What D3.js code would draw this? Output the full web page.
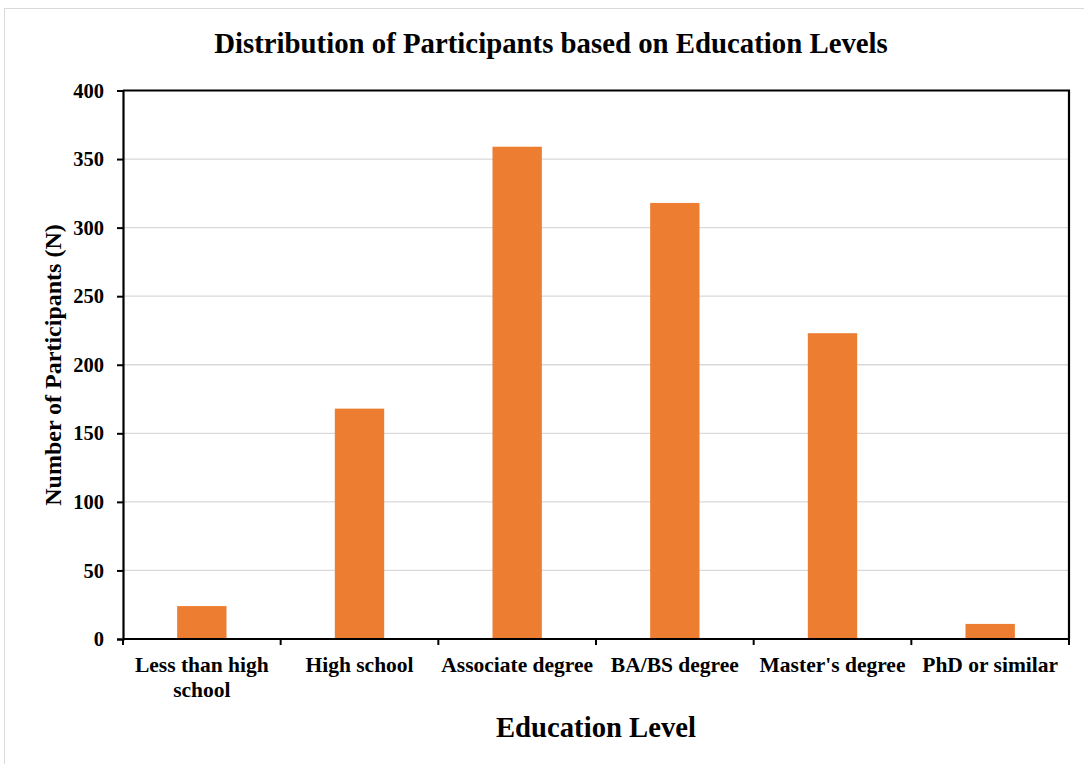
<!DOCTYPE html>
<html>
<head>
<meta charset="utf-8">
<script src="https://cdn.jsdelivr.net/npm/d3@7"></script>
<style>
  html, body { margin: 0; padding: 0; background: #fff; }
  svg text { font-family: "Liberation Serif", "Times New Roman", serif; font-weight: bold; }
</style>
</head>
<body>
<svg id="chart" width="1084" height="764"></svg>
<script>
const categories = ["Less than high school", "High school", "Associate degree", "BA/BS degree", "Master's degree", "PhD or similar"];
const values = [24, 168, 359, 318, 223, 11];
const yTicks = [0, 50, 100, 150, 200, 250, 300, 350, 400];
const titleText = "Distribution of Participants based on Education Levels";
const xTitle = "Education Level";
const yTitle = "Number of Participants (N)";

const svg = d3.select("#chart");
const W = 1084, H = 764;
const m = { left: 123, right: 1069, top: 90.5, bottom: 639 };

// outer chart border
svg.append("rect").attr("x", 4.5).attr("y", 8.5).attr("width", W + 10).attr("height", H + 10)
  .attr("fill", "#fff").attr("stroke", "#d9d9d9").attr("stroke-width", 1);

const x = d3.scaleBand().domain(categories).range([m.left, m.right]).paddingInner(0).paddingOuter(0);
const y = d3.scaleLinear().domain([0, 400]).range([m.bottom, m.top]);

// gridlines
svg.append("g").selectAll("line").data(yTicks.filter(t => t > 0 && t < 400)).join("line")
  .attr("x1", m.left).attr("x2", m.right)
  .attr("y1", d => y(d)).attr("y2", d => y(d))
  .attr("stroke", "#d9d9d9").attr("stroke-width", 1.3);

// bars
const bw = x.bandwidth() * 0.313;
svg.append("g").selectAll("rect").data(values).join("rect")
  .attr("x", (d, i) => x(categories[i]) + x.bandwidth() / 2 - bw / 2)
  .attr("width", bw)
  .attr("y", d => y(d))
  .attr("height", d => y(0) - y(d))
  .attr("fill", "#ED7D31");

// frame (top and right)
svg.append("path")
  .attr("d", `M${m.left},${m.top}H${m.right}V${m.bottom}`)
  .attr("fill", "none").attr("stroke", "#000").attr("stroke-width", 2.2);

// y axis
const yAxis = svg.append("g").attr("transform", `translate(${m.left},0)`)
  .call(d3.axisLeft(y).tickValues(yTicks).tickSize(6).tickPadding(13).tickFormat(d3.format("d")));
yAxis.attr("font-family", null).attr("font-size", null);
yAxis.select(".domain").attr("stroke", "#000").attr("stroke-width", 2.2);
yAxis.selectAll(".tick line").attr("stroke", "#000").attr("stroke-width", 2);
yAxis.selectAll(".tick text").attr("font-size", 20.5).attr("fill", "#000");

// x axis
const xAxis = svg.append("g").attr("transform", `translate(0,${m.bottom})`)
  .call(d3.axisBottom(x).tickSize(0).tickPadding(0));
xAxis.select(".domain").attr("stroke", "#000").attr("stroke-width", 2.2).attr("d", `M${m.left},0H${m.right}`);
xAxis.selectAll(".tick text").remove();
// category boundary ticks
const bounds = categories.map(c => x(c)).concat([m.right]);
svg.append("g").selectAll("line").data(bounds).join("line")
  .attr("x1", d => d).attr("x2", d => d)
  .attr("y1", m.bottom).attr("y2", m.bottom + 6)
  .attr("stroke", "#000").attr("stroke-width", 2);

// category labels (wrap long ones)
const maxW = x.bandwidth() - 4;
const labG = svg.append("g");
categories.forEach(c => {
  const cx = x(c) + x.bandwidth() / 2;
  const t = labG.append("text").attr("x", cx).attr("y", 672)
    .attr("text-anchor", "middle").attr("font-size", 21.5).attr("fill", "#000");
  const words = c.split(" ");
  let line = [];
  let tspan = t.append("tspan").attr("x", cx).attr("dy", 0);
  words.forEach(w => {
    line.push(w);
    tspan.text(line.join(" "));
    if (tspan.node().getComputedTextLength() > maxW && line.length > 1) {
      line.pop();
      tspan.text(line.join(" "));
      line = [w];
      tspan = t.append("tspan").attr("x", cx).attr("dy", 25).text(w);
    }
  });
});

// title
svg.append("text").attr("x", 551).attr("y", 53).attr("text-anchor", "middle")
  .attr("font-size", 28.8).attr("fill", "#000").text(titleText);

// x title
svg.append("text").attr("x", 596).attr("y", 737).attr("text-anchor", "middle")
  .attr("font-size", 28.7).attr("fill", "#000").text(xTitle);

// y title
svg.append("text").attr("transform", `translate(61,365) rotate(-90)`).attr("text-anchor", "middle")
  .attr("font-size", 24).attr("fill", "#000").text(yTitle);
</script>
</body>
</html>
